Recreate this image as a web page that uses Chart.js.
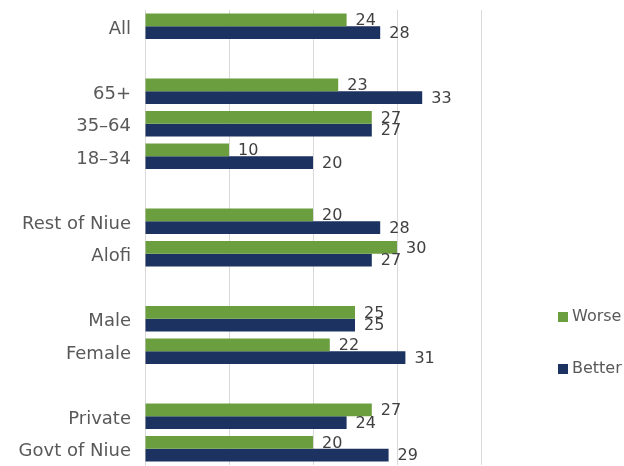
<!DOCTYPE html>
<html>
<head>
<meta charset="utf-8">
<script src="https://cdn.jsdelivr.net/npm/chart.js@4/dist/chart.umd.min.js"></script>
<style>
  html, body { margin: 0; padding: 0; background: #fff; }
  #wrap { width: 624px; height: 466px; position: relative; }
</style>
</head>
<body>
<div id="wrap"><canvas id="myChart"></canvas></div>
<script>
// categories (blank rows separate the groups)
var labels = ["All", "", "65+", "35\u201364", "18\u201334", "", "Rest of Niue", "Alofi", "", "Male", "Female", "", "Private", "Govt of Niue"];
var worse  = [24, null, 23, 27, 10, null, 20, 30, null, 25, 22, null, 27, 20];
var better = [28, null, 33, 27, 20, null, 28, 27, null, 25, 31, null, 24, 29];
var xTicks = [0, 10, 20, 30, 40];

var green = "#6a9e3f";
var navy = "#1c3260";
var fontName = "'DejaVu Sans', sans-serif";

// value labels at the end of each bar
var barLabels = {
  id: "barLabels",
  afterDatasetsDraw: function (chart) {
    var ctx = chart.ctx;
    ctx.save();
    ctx.font = "16px " + fontName;
    ctx.fillStyle = "#404040";
    ctx.textAlign = "left";
    ctx.textBaseline = "middle";
    chart.data.datasets.forEach(function (ds, i) {
      chart.getDatasetMeta(i).data.forEach(function (bar, j) {
        if (ds.data[j] == null) return;
        ctx.fillText(ds.data[j], bar.x + 9, bar.y + 1);
      });
    });
    ctx.restore();
  }
};

// legend on the right
var sideLegend = {
  id: "sideLegend",
  afterDraw: function (chart) {
    var ctx = chart.ctx;
    var items = [["Worse", green, 317], ["Better", navy, 369]];
    ctx.save();
    ctx.font = "16px " + fontName;
    ctx.textBaseline = "middle";
    items.forEach(function (it) {
      ctx.fillStyle = it[1];
      ctx.fillRect(558, it[2] - 5, 10, 10);
      ctx.fillStyle = "#595959";
      ctx.fillText(it[0], 572, it[2]);
    });
    ctx.restore();
  }
};

new Chart("myChart", {
  type: "bar",
  data: {
    labels: labels,
    datasets: [
      { label: "Worse", data: worse, backgroundColor: green, barPercentage: 1, categoryPercentage: 0.78 },
      { label: "Better", data: better, backgroundColor: navy, barPercentage: 1, categoryPercentage: 0.78 }
    ]
  },
  options: {
    indexAxis: "y",
    responsive: true,
    maintainAspectRatio: false,
    animation: false,
    layout: { autoPadding: false, padding: { top: 10, right: 143, bottom: 1, left: 0 } },
    plugins: {
      legend: { display: false },
      tooltip: { enabled: false }
    },
    scales: {
      x: {
        min: xTicks[0],
        max: xTicks[xTicks.length - 1],
        afterBuildTicks: function (scale) {
          scale.ticks = xTicks.map(function (v) { return { value: v }; });
        },
        afterFit: function (scale) { scale.height = 0; },
        ticks: { display: false },
        grid: { color: "#d9d9d9", drawTicks: false },
        border: { display: false }
      },
      y: {
        afterFit: function (scale) {
          scale.width = 145;
          scale.paddingTop = 0;
          scale.paddingBottom = 0;
        },
        ticks: {
          padding: 0,
          labelOffset: 3,
          color: "#595959",
          font: { family: fontName, size: 18 },
          autoSkip: false
        },
        grid: { display: true, drawOnChartArea: false, drawTicks: true, tickLength: 14, tickColor: "rgba(0,0,0,0)" },
        border: { display: true, color: "#d9d9d9" }
      }
    }
  },
  plugins: [barLabels, sideLegend]
});
</script>
</body>
</html>
